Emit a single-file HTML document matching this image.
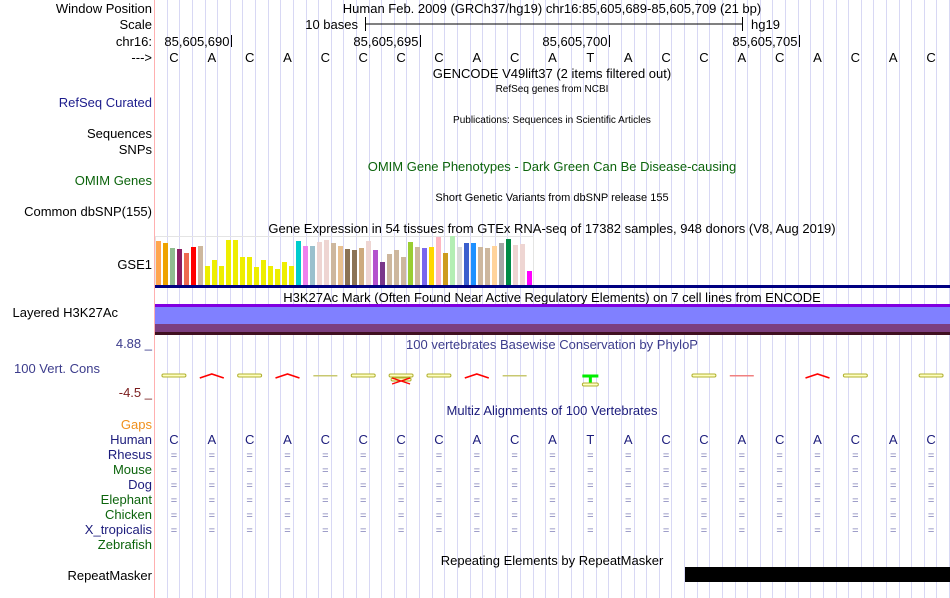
<!DOCTYPE html>
<html><head><meta charset="utf-8">
<style>
html,body{margin:0;padding:0;background:#fff;}
svg{display:block;font-family:"Liberation Sans",sans-serif;}
</style></head>
<body>
<svg id="c" width="950" height="598" viewBox="0 0 950 598" xmlns="http://www.w3.org/2000/svg">
<g id="grid"></g>
<line x1="154.5" y1="0" x2="154.5" y2="598" stroke="#ffb0b0" stroke-width="1"/>
<g font-size="13" text-anchor="end">
<text x="152" y="13">Window Position</text>
<text x="152" y="29">Scale</text>
<text x="152" y="46">chr16:</text>
<text x="152" y="62">---&gt;</text>
<text x="152" y="107" fill="#1c1c8c">RefSeq Curated</text>
<text x="152" y="138">Sequences</text>
<text x="152" y="154">SNPs</text>
<text x="152" y="185" fill="#0c640c">OMIM Genes</text>
<text x="152" y="216">Common dbSNP(155)</text>
<text x="152" y="269">GSE1</text>
<text x="118" y="317">Layered H3K27Ac</text>
<text x="152" y="348" fill="#3c3c8c">4.88 _</text>
<text x="100" y="373" fill="#3c3c8c">100 Vert. Cons</text>
<text x="152" y="397" fill="#7a1c1c">-4.5 _</text>
<text x="152" y="429" fill="#f0901c">Gaps</text>
<text x="152" y="444" fill="#1c1c7c">Human</text>
<text x="152" y="459" fill="#1c1c7c">Rhesus</text>
<text x="152" y="474" fill="#0c640c">Mouse</text>
<text x="152" y="489" fill="#1c1c7c">Dog</text>
<text x="152" y="504" fill="#0c640c">Elephant</text>
<text x="152" y="519" fill="#0c640c">Chicken</text>
<text x="152" y="534" fill="#1c1c7c">X_tropicalis</text>
<text x="152" y="549" fill="#0c640c">Zebrafish</text>
<text x="152" y="580">RepeatMasker</text>
</g>
<g font-size="13" text-anchor="middle">
<text x="552" y="13">Human Feb. 2009 (GRCh37/hg19)   chr16:85,605,689-85,605,709 (21 bp)</text>
<text x="552" y="78">GENCODE V49lift37 (2 items filtered out)</text>
<text x="552" y="92" font-size="10">RefSeq genes from NCBI</text>
<text x="552" y="123" font-size="10">Publications: Sequences in Scientific Articles</text>
<text x="552" y="171" fill="#0c640c">OMIM Gene Phenotypes - Dark Green Can Be Disease-causing</text>
<text x="552" y="201" font-size="11">Short Genetic Variants from dbSNP release 155</text>
<text x="552" y="233">Gene Expression in 54 tissues from GTEx RNA-seq of 17382 samples, 948 donors (V8, Aug 2019)</text>
<text x="552" y="302">H3K27Ac Mark (Often Found Near Active Regulatory Elements) on 7 cell lines from ENCODE</text>
<text x="552" y="349" fill="#3c3c8c">100 vertebrates Basewise Conservation by PhyloP</text>
<text x="552" y="415" fill="#1c1c7c">Multiz Alignments of 100 Vertebrates</text>
<text x="552" y="565">Repeating Elements by RepeatMasker</text>
</g>
<g>
<text x="358" y="29" font-size="13" text-anchor="end">10 bases</text>
<line x1="365" y1="24" x2="743" y2="24" stroke="#000"/>
<line x1="365.5" y1="17" x2="365.5" y2="31" stroke="#000"/>
<line x1="742.5" y1="17" x2="742.5" y2="31" stroke="#000"/>
<text x="751" y="29" font-size="13">hg19</text>
</g>
<g id="coords"></g>
<g id="bases"></g>
<rect x="155.5" y="236.5" width="378" height="49" fill="none" stroke="#e4e4e4"/>
<g id="gtex"></g>
<rect x="155" y="285" width="795" height="3" fill="#000080"/>
<g>
<rect x="155" y="304" width="795" height="3" fill="#8000e0"/>
<rect x="155" y="307" width="795" height="17" fill="#8080ff"/>
<rect x="155" y="324" width="795" height="8" fill="#7c3f80"/>
<rect x="155" y="332" width="795" height="3" fill="#401020"/>
</g>
<g id="cons"></g>
<g id="multiz"></g>
<rect x="685" y="567" width="265" height="15" fill="#000"/>
</svg>
<script>
const bases = ["C","A","C","A","C","C","C","C","A","C","A","T","A","C","C","A","C","A","C","A","C"];
const coordLabels = ["85,605,690","85,605,695","85,605,700","85,605,705"];
const coordBaseIndex = [2,7,12,17];
const gtexHeights = [44,42,37,36,32,38,39,19,25,19,45,45,28,28,18,25,19,16,23,19,44,39,39,43,45,42,39,36,35,37,44,35,23,31,35,28,43,38,37,38,48,32,49,38,42,42,38,37,39,42,46,40,41,14];
const gtexColors = ["#FFA54F","#EEA200","#8FBC8F","#8B1C62","#EE6A50","#FF0000","#CDB79E","#EEEE00","#EEEE00","#EEEE00","#EEEE00","#EEEE00","#EEEE00","#EEEE00","#EEEE00","#EEEE00","#EEEE00","#EEEE00","#EEEE00","#EEEE00","#00CDCD","#EE82EE","#9AC0CD","#EED5D2","#EED5D2","#CDB79E","#E8C090","#8B7355","#8B7355","#CDAA7D","#EED5D2","#B452CD","#7A378B","#CDB79E","#CDB79E","#CDB79E","#9ACD32","#CDB79E","#7A67EE","#FFD700","#FFB6C1","#CD9B1D","#B4EEB4","#D9D9D9","#3A5FCD","#1E90FF","#CDB79E","#CDB79E","#FFD39B","#A6A6A6","#008B45","#EED5D2","#EED5D2","#FF00FF"];
const consGlyphs = ["oval","caret","oval","caret","line","oval","ovalx","oval","caret","line","none","tee","none","none","oval","redline","none","caret","oval","none","oval"];
const species = ["Rhesus","Mouse","Dog","Elephant","Chicken","X_tropicalis"];

const NS="http://www.w3.org/2000/svg";
const X0=155, BW=795/21;
const bx=i=>X0+BW*(i+0.5);
const gx=i=>156+7*i;
const gy=h=>285-h;
function mk(tag,attrs,parent,text){const e=document.createElementNS(NS,tag);for(const k in attrs)e.setAttribute(k,attrs[k]);if(text!==undefined)e.textContent=text;parent.appendChild(e);return e;}

const grid=document.getElementById('grid');
for(let k=0;k<63;k++){const x=Math.round(X0+BW*(k+1)/3-0.9)+0.5;
const l=mk('line',{x1:x,y1:0,x2:x,y2:598,stroke:'#d8d8f4','stroke-width':1},grid);

}

const coords=document.getElementById('coords');
coordLabels.forEach((t,j)=>{const x=Math.round(X0+BW*coordBaseIndex[j])+0.5;
const tk=mk('line',{x1:x,y1:35,x2:x,y2:47,stroke:'#000'},coords);


const tx=mk('text',{x:x-2,y:46,'font-size':13,'text-anchor':'end'},coords,t);

});

const bg=document.getElementById('bases');
const mz=document.getElementById('multiz');
bases.forEach((b,i)=>{
const t=mk('text',{x:bx(i),y:62,'font-size':13,'text-anchor':'middle'},bg,b);


const h=mk('text',{x:bx(i),y:444,'font-size':13,'text-anchor':'middle',fill:'#1c1c7c'},mz,b);


species.forEach((s,r)=>{
const e=mk('text',{x:bx(i),y:459+15*r,'font-size':11,'text-anchor':'middle',fill:'#8080b8'},mz,'=');

});
});

const gt=document.getElementById('gtex');
gtexHeights.forEach((h,i)=>{
const r=mk('rect',{x:gx(i),y:gy(h),width:5,height:h,fill:gtexColors[i%gtexColors.length]},gt);

});

const cg=document.getElementById('cons');
consGlyphs.forEach((g,i)=>{const c=bx(i);let e=null;
if(g==='oval'||g==='ovalx'){e=mk('rect',{x:c-12,y:374,width:24,height:3,rx:1.5,fill:'#ffffc0',stroke:'#b0b030','stroke-width':1},cg);
if(g==='ovalx'){mk('rect',{x:c-10,y:378,width:20,height:3,rx:1.5,fill:'#ffffc0',stroke:'#b0b030','stroke-width':1},cg);
mk('path',{d:`M${c-9} 384 L${c+9} 378 M${c-9} 378 L${c+9} 384`,stroke:'#ff0000','stroke-width':1.3,fill:'none'},cg);}}
else if(g==='caret'){e=mk('path',{d:`M${c-12} 378 L${c} 374 L${c+12} 378`,stroke:'#ff0000','stroke-width':1.6,fill:'none'},cg);}
else if(g==='line'){e=mk('rect',{x:c-12,y:375,width:24,height:1.5,fill:'#c8c870'},cg);}
else if(g==='redline'){e=mk('rect',{x:c-12,y:375,width:24,height:1.5,fill:'#f08080'},cg);}
else if(g==='tee'){e=mk('path',{d:`M${c-8} 376 L${c+8} 376 M${c} 376 L${c} 384`,stroke:'#00ee00','stroke-width':3,fill:'none'},cg);
mk('rect',{x:c-8,y:383,width:16,height:3,rx:1.5,fill:'#ffffc0',stroke:'#b0b030','stroke-width':1},cg);}
if(e){
}
});
</script>
</body></html>
